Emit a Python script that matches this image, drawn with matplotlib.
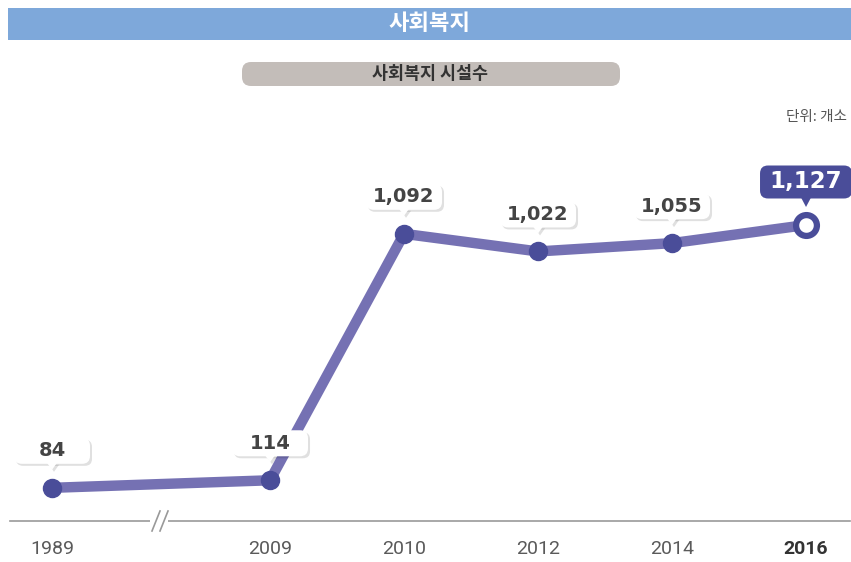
import matplotlib.pyplot as plt
from matplotlib.patches import FancyBboxPatch, Rectangle, Polygon
from matplotlib.lines import Line2D

plt.rcParams['font.family'] = ['Noto Sans CJK KR', 'DejaVu Sans']

# data
years = ['1989', '2009', '2010', '2012', '2014', '2016']
values = [84, 114, 1092, 1022, 1055, 1127]
labels = ['84', '114', '1,092', '1,022', '1,055', '1,127']

W, H = 851, 562
fig = plt.figure(figsize=(W / 100, H / 100), dpi=100)

def fx(px):
    return px / W

def fy(py):
    return 1 - py / H

# positions along x (1989 sits before the axis break)
xpos = [0, 1.627, 2.627, 3.627, 4.627, 5.627]

ax = fig.add_axes([0, 0, 1, 1])
ax.set_xlim(-52 / 134, (W - 52) / 134)
ax.set_ylim((509 - H) / 0.252, 509 / 0.252)
ax.axis('off')

line_c = '#7571b3'
dot_c = '#4a4d99'

ax.plot(xpos, values, color=line_c, lw=7.5, solid_capstyle='round', zorder=2)
ax.plot(xpos[:-1], values[:-1], 'o', color=dot_c, ms=13, zorder=3)
ax.plot(xpos[-1], values[-1], 'o', mfc='white', mec=dot_c, mew=4.5, ms=15, zorder=3)

# value labels: callout boxes drawn in pixel units above each point
for i, (x, v, lab) in enumerate(zip(xpos, values, labels)):
    last = i == len(values) - 1
    px, py = ax.transData.transform((x, v))
    if last:
        bw, bh, off, fc, tc, fs = 92, 33, 43, dot_c, 'white', 16.5
    else:
        bw, bh, off, fc, tc, fs = 76, 26, 37, 'white', '#444444', 14
    cy = py + off
    tip = py + 18
    if not last:
        sh = FancyBboxPatch((px - bw / 2 + 2, cy - bh / 2 - 2), bw, bh,
                            boxstyle='round,pad=0,rounding_size=7', transform=None,
                            fc='#000000', alpha=0.12, ec='none', zorder=4)
        fig.add_artist(sh)
        fig.add_artist(Polygon([[px - 5 + 2, cy - bh / 2 + 1 - 2], [px + 5 + 2, cy - bh / 2 + 1 - 2],
                                [px + 2, tip - 2]], closed=True, transform=None,
                               fc='#000000', alpha=0.12, ec='none', zorder=4))
    box = FancyBboxPatch((px - bw / 2, cy - bh / 2), bw, bh,
                         boxstyle='round,pad=0,rounding_size=8', transform=None,
                         fc=fc, ec='none', zorder=5)
    fig.add_artist(box)
    fig.add_artist(Polygon([[px - 5, cy - bh / 2 + 1], [px + 5, cy - bh / 2 + 1], [px, tip]],
                           closed=True, transform=None, fc=fc, ec='none', zorder=5))
    fig.text(px / W, cy / H, lab, ha='center', va='center', fontsize=fs,
             fontweight='bold', color=tc, family='DejaVu Sans', zorder=6)

# x axis line with break
fig.add_artist(Line2D([fx(10), fx(850)], [fy(521), fy(521)], color='#999999', lw=1.2))
fig.add_artist(Rectangle((fx(150), fy(527)), 18 / W, 12 / H, fc='white', ec='none', zorder=3))
for dx in (0, 8):
    fig.add_artist(Line2D([fx(152 + dx), fx(160 + dx)], [fy(531), fy(511)],
                          color='#999999', lw=1.2, zorder=4))

for i, (x, y) in enumerate(zip(xpos, years)):
    ax.text(x, (509 - 549) / 0.252, y, ha='center', va='center', fontsize=14,
            family='Roboto', color='#5a5a5a' if i < 5 else '#333333',
            fontweight='bold' if i == 5 else 'normal')

# header bar
fig.add_artist(Rectangle((fx(8), fy(40)), (W - 8) / W, 32 / H, fc='#7ea8da', ec='none'))
fig.text(fx(430), fy(24), '사회복지', ha='center', va='center', fontsize=16,
         fontweight='bold', color='white')

# subtitle pill
pill = FancyBboxPatch((242, H - 86), 378, 24, boxstyle='round,pad=0,rounding_size=9',
                      transform=None, fc='#c3bdb9', ec='none')
fig.add_artist(pill)
fig.text(fx(430), fy(74), '사회복지 시설수', ha='center', va='center', fontsize=12.5,
         fontweight='bold', color='#333333')

fig.text(fx(847), fy(117), '단위: 개소', ha='right', va='center', fontsize=10.5,
         color='#555555')

fig.savefig('out.png', dpi=100)
